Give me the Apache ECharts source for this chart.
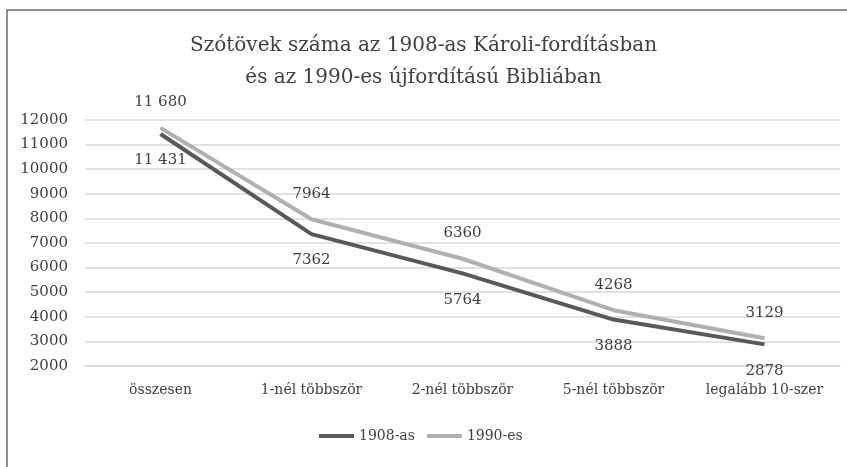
<!DOCTYPE html>
<html>
<head>
<meta charset="utf-8">
<script src="https://cdn.jsdelivr.net/npm/echarts@6/dist/echarts.min.js"></script>
<style>html,body{margin:0;padding:0;background:#fff}#c{width:847px;height:467px}</style>
</head>
<body>
<div id="c"></div>
<script>
const categories = ['összesen', '1-nél többször', '2-nél többször', '5-nél többször', 'legalább 10-szer'];
const values1908 = [11431, 7362, 5764, 3888, 2878];
const values1990 = [11680, 7964, 6360, 4268, 3129];
const seriesNames = ['1908-as', '1990-es'];
const yTicks = { min: 2000, max: 12000, interval: 1000 };

const FONT = 'DejaVu Serif';
function fmt(p) {
  const v = p.value;
  if (v >= 10000) return String(v).replace(/(\d+)(\d{3})$/, '$1 $2');
  return String(v);
}
const chart = echarts.init(document.getElementById('c'));
chart.setOption({
  animation: false,
  textStyle: { fontFamily: FONT },
  title: {
    text: 'Szótövek száma az 1908-as Károli-fordításban\nés az 1990-es újfordítású Bibliában',
    left: 'center', top: 25,
    textStyle: { fontFamily: FONT, fontSize: 20, fontWeight: 'normal', color: '#404040', lineHeight: 32 }
  },
  graphic: [{
    type: 'rect', shape: { x: 7, y: 10, width: 870, height: 490 },
    style: { fill: 'none', stroke: '#6b6b6b', lineWidth: 1.5 }, silent: true
  }],
  grid: { left: 85, right: 7, top: 120, bottom: 101, containLabel: false },
  legend: {
    left: 314, top: 424, itemWidth: 35, itemHeight: 4, itemGap: 12,
    icon: 'rect',
    textStyle: { fontFamily: FONT, fontSize: 14, color: '#404040' },
    data: seriesNames
  },
  xAxis: {
    type: 'category', data: categories, boundaryGap: true,
    axisLine: { lineStyle: { color: '#d9d9d9', width: 1.5 } },
    axisTick: { show: false },
    axisLabel: { fontFamily: FONT, fontSize: 14, color: '#404040', margin: 17, interval: 0 }
  },
  yAxis: {
    type: 'value', min: yTicks.min, max: yTicks.max, interval: yTicks.interval,
    axisLine: { show: false }, axisTick: { show: false },
    splitLine: { lineStyle: { color: '#d9d9d9', width: 1.5 } },
    axisLabel: { fontFamily: FONT, fontSize: 15, color: '#404040', margin: 17, formatter: function (v) { return String(v); } }
  },
  series: [
    {
      name: seriesNames[0], type: 'line', data: values1908, symbol: 'circle', symbolSize: 0.01, showSymbol: true,
      lineStyle: { color: '#595959', width: 4 }, itemStyle: { color: '#595959' },
      label: { show: true, position: 'bottom', distance: 19, formatter: fmt, fontFamily: FONT, fontSize: 15, color: '#404040' },
      z: 3
    },
    {
      name: seriesNames[1], type: 'line', data: values1990, symbol: 'circle', symbolSize: 0.01, showSymbol: true,
      lineStyle: { color: '#b0b0b0', width: 4 }, itemStyle: { color: '#b0b0b0' },
      label: { show: true, position: 'top', distance: 18, formatter: fmt, fontFamily: FONT, fontSize: 15, color: '#404040' },
      z: 2
    }
  ]
});
</script>
</body>
</html>
